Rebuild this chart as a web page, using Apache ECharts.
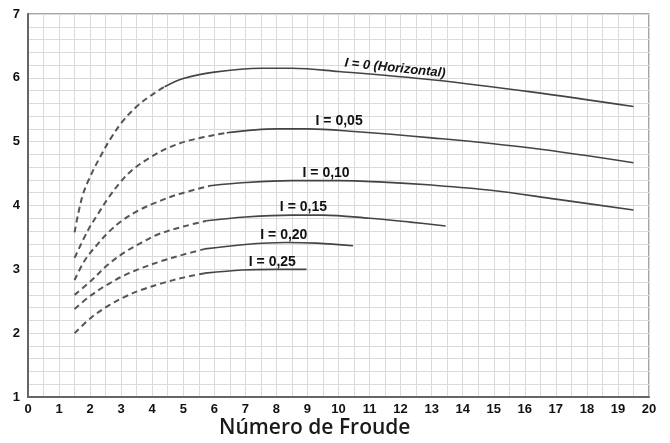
<!DOCTYPE html>
<html>
<head>
<meta charset="utf-8">
<script src="https://cdn.jsdelivr.net/npm/echarts@6/dist/echarts.min.js"></script>
<style>
  html, body { margin: 0; padding: 0; background: #fff; }
  #chart { width: 670px; height: 443px; }
</style>
</head>
<body>
<div id="chart"></div>
<script>
// curvas: tramo discontinuo (dash) y tramo continuo (solid)
var i0Dash = [[1.5, 3.58], [1.62, 3.88], [1.78, 4.19], [2.0, 4.45], [2.3, 4.74], [2.65, 5.04], [3.05, 5.32], [3.5, 5.55], [3.95, 5.72], [4.4, 5.86]];
var i0Solid = [[4.4, 5.86], [5.0, 5.99], [6.0, 6.09], [7.5, 6.15], [8.5, 6.15], [10, 6.1], [13, 5.97], [16.2, 5.78], [19.5, 5.55]];

var i05Dash = [[1.5, 3.18], [1.94, 3.62], [2.27, 3.88], [2.59, 4.12], [2.95, 4.35], [3.34, 4.55], [3.93, 4.75], [4.5, 4.9], [5.2, 5.02], [6.4, 5.14]];
var i05Solid = [[6.4, 5.14], [8, 5.2], [9, 5.2], [10.5, 5.16], [13, 5.06], [16.2, 4.9], [19.5, 4.67]];

var i10Dash = [[1.5, 2.83], [1.84, 3.15], [2.27, 3.41], [2.59, 3.58], [3.02, 3.76], [3.55, 3.92], [4.09, 4.04], [4.8, 4.17], [5.86, 4.31]];
var i10Solid = [[5.86, 4.31], [7, 4.36], [8.5, 4.39], [10, 4.39], [11.3, 4.37], [13, 4.32], [14.9, 4.24], [17, 4.1], [19.5, 3.93]];

var i15Dash = [[1.5, 2.6], [2.05, 2.83], [2.59, 3.08], [3.12, 3.27], [3.66, 3.42], [4.2, 3.55], [5.0, 3.67], [5.75, 3.76]];
var i15Solid = [[5.75, 3.76], [7, 3.82], [8.5, 3.85], [9.5, 3.85], [11, 3.8], [12.3, 3.74], [13.45, 3.68]];

var i20Dash = [[1.5, 2.38], [2.05, 2.6], [2.59, 2.77], [3.12, 2.91], [3.66, 3.02], [4.3, 3.13], [5.0, 3.23], [5.7, 3.32]];
var i20Solid = [[5.7, 3.32], [7, 3.39], [8.3, 3.42], [9.3, 3.41], [10.47, 3.37]];

var i25Dash = [[1.5, 2.0], [2.05, 2.25], [2.59, 2.43], [3.12, 2.57], [3.66, 2.68], [4.3, 2.78], [5.0, 2.87], [5.7, 2.94]];
var i25Solid = [[5.7, 2.94], [6.9, 2.99], [8, 3.0], [8.97, 3.0]];

var curveNames = ['I = 0 (Horizontal)', 'I = 0,05', 'I = 0,10', 'I = 0,15', 'I = 0,20', 'I = 0,25'];

var myChart = echarts.init(document.getElementById('chart'));

var fontMain = 'Liberation Sans, Arial, sans-serif';

function dashSeries(data) {
  return {
    type: 'line',
    data: data,
    smooth: 0.35,
    showSymbol: false,
    silent: true,
    lineStyle: { color: '#555', width: 2, type: [6, 4] }
  };
}

function solidSeries(data, name, coord, rotate, italic) {
  return {
    type: 'line',
    name: name,
    data: data,
    smooth: 0.35,
    showSymbol: false,
    silent: true,
    lineStyle: { color: '#444', width: 1.6 },
    markPoint: {
      symbol: 'circle',
      symbolSize: 0,
      silent: true,
      data: [{
        coord: coord,
        label: {
          show: true,
          position: 'inside',
          formatter: name,
          rotate: rotate,
          color: '#111',
          fontSize: italic ? 13 : 14,
          fontWeight: 'bold',
          fontStyle: italic ? 'italic' : 'normal',
          fontFamily: fontMain
        }
      }]
    }
  };
}

var gridLine = { color: '#dadada', width: 1, type: 'solid' };

var option = {
  animation: false,
  backgroundColor: '#fff',
  title: {
    text: 'Número de Froude',
    left: 214,
    top: 413,
    textStyle: { fontSize: 21, fontWeight: 600, color: '#1a1a1a', fontFamily: 'Open Sans, Noto Sans, sans-serif' }
  },
  grid: {
    left: 28, right: 21, top: 14, bottom: 46,
    show: true,
    borderColor: '#888',
    borderWidth: 1.5
  },
  xAxis: {
    type: 'value',
    min: 0, max: 20, interval: 1,
    axisLine: { show: true, onZero: false, lineStyle: { color: '#666', width: 2 } },
    axisTick: { show: false },
    axisLabel: { color: '#111', fontSize: 13, fontWeight: 'bold', fontFamily: fontMain, margin: 6 },
    splitLine: { show: true, lineStyle: gridLine },
    minorTick: { show: false, splitNumber: 2 },
    minorSplitLine: { show: true, lineStyle: gridLine }
  },
  yAxis: {
    type: 'value',
    min: 1, max: 7, interval: 1,
    axisLine: { show: true, onZero: false, lineStyle: { color: '#666', width: 2 } },
    axisTick: { show: false },
    axisLabel: { color: '#111', fontSize: 13, fontWeight: 'bold', fontFamily: fontMain, margin: 8 },
    splitLine: { show: true, lineStyle: gridLine },
    minorTick: { show: false, splitNumber: 5 },
    minorSplitLine: { show: true, lineStyle: gridLine }
  },
  series: [
    dashSeries(i0Dash), solidSeries(i0Solid, curveNames[0], [11.82, 6.15], -6, true),
    dashSeries(i05Dash), solidSeries(i05Solid, curveNames[1], [10.02, 5.32], 0, false),
    dashSeries(i10Dash), solidSeries(i10Solid, curveNames[2], [9.6, 4.51], 0, false),
    dashSeries(i15Dash), solidSeries(i15Solid, curveNames[3], [8.87, 3.98], 0, false),
    dashSeries(i20Dash), solidSeries(i20Solid, curveNames[4], [8.24, 3.54], 0, false),
    dashSeries(i25Dash), solidSeries(i25Solid, curveNames[5], [7.87, 3.11], 0, false)
  ]
};

myChart.setOption(option);
</script>
</body>
</html>
